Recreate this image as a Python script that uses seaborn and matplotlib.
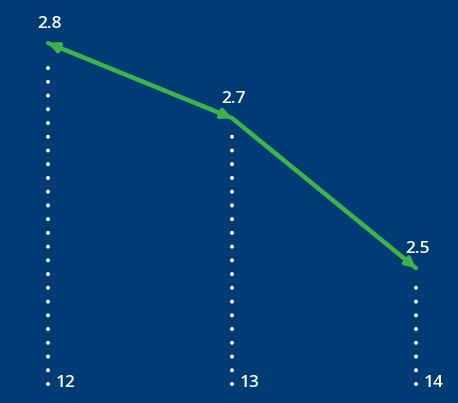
import matplotlib
matplotlib.use("Agg")
import matplotlib.pyplot as plt
import seaborn as sns
import pandas as pd

# Data
years = [12, 13, 14]
values = [2.8, 2.7, 2.5]
tick_labels = ["12", "13", "14"]
value_labels = ["2.8", "2.7", "2.5"]

BG = "#003b76"
GREEN = "#3bb54a"

sns.set_theme(style="white")
plt.rcParams["font.family"] = ["Open Sans", "DejaVu Sans"]

df = pd.DataFrame({"year": years, "value": values})

fig = plt.figure(figsize=(4.58, 4.03), dpi=100, facecolor=BG)
ax = fig.add_axes([0, 0, 1, 1])
ax.set_facecolor(BG)

ax.set_xlim(11.739, 14.228)
ax.set_ylim(2.3203, 2.8573)
ax.axis("off")

# White dotted drop lines under each point, dots anchored at the foot
bottom = 2.345
for x, v in zip(years, values):
    ax.plot([x, x], [bottom, v - 0.019], color="white", lw=2.9,
            linestyle=(0, (0.01, 3.4)), dash_capstyle="round", zorder=1)

# Main line
sns.lineplot(data=df, x="year", y="value", ax=ax, color=GREEN, lw=3,
             legend=False, zorder=3)

# Arrowheads along the polyline
for i in range(len(years) - 1):
    style = "<|-|>" if i == 0 else "-|>"
    ax.annotate("", xy=(years[i + 1], values[i + 1]), xytext=(years[i], values[i]),
                arrowprops=dict(arrowstyle=style, color=GREEN, lw=3,
                                mutation_scale=14, shrinkA=0, shrinkB=0),
                zorder=4)

# Value labels above points
for x, v, lab in zip(years, values, value_labels):
    ax.annotate(lab, xy=(x, v), xytext=(1, 8), textcoords="offset points",
                ha="center", va="bottom", color="white", fontsize=12.5,
                fontweight="semibold")

# Category labels at the foot of each drop line
for x, lab in zip(years, tick_labels):
    ax.annotate(lab, xy=(x, 2.347), xytext=(5.5, 0), textcoords="offset points",
                ha="left", va="center", color="white", fontsize=12.5,
                fontweight="semibold")

fig.savefig("out.png", dpi=100, facecolor=BG)
